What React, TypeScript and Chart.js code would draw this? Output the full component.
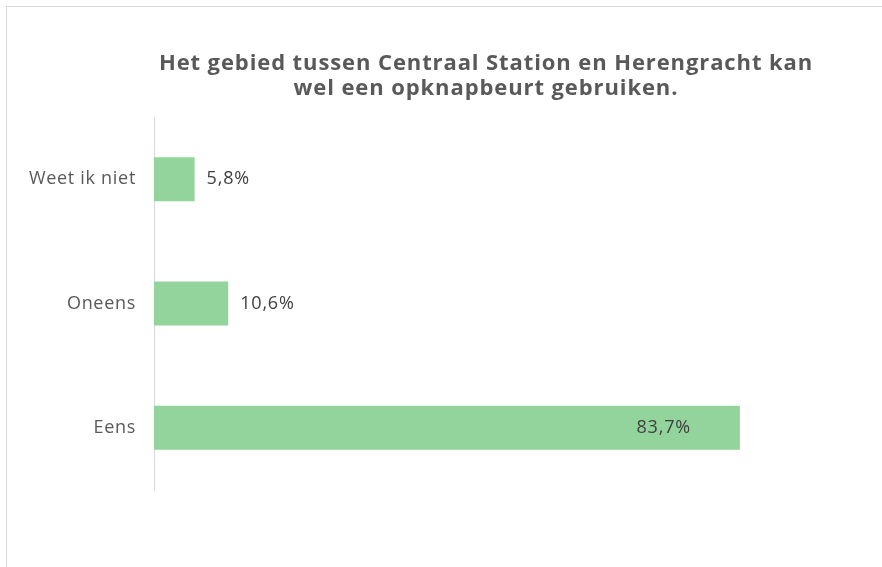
import React, { useEffect, useRef } from "react";
import { Chart, registerables } from "chart.js";

Chart.register(...registerables);

const titleLines = [
  "Het gebied tussen Centraal Station en Herengracht kan",
  "wel een opknapbeurt gebruiken.",
];
const categories = ["Weet ik niet", "Oneens", "Eens"];
const values = [5.8, 10.6, 83.7];

const fmt = (v: number) => v.toFixed(1).replace(".", ",") + "%";

export default function App() {
  const ref = useRef<HTMLCanvasElement | null>(null);

  useEffect(() => {
    if (!ref.current) return;
    const spacingPlugin = {
      id: "spacing",
      beforeDraw(chart: any) {
        (chart.ctx as any).letterSpacing = "0.7px";
      },
    };
    const titlePlugin = {
      id: "customTitle",
      afterDraw(chart: any) {
        const ctx = chart.ctx as any;
        ctx.save();
        ctx.letterSpacing = "0.9px";
        ctx.fillStyle = "#595959";
        ctx.font = "bold 22px 'Open Sans'";
        ctx.textAlign = "center";
        ctx.textBaseline = "alphabetic";
        titleLines.forEach((t, i) => ctx.fillText(t, 486, 70 + i * 25));
        ctx.restore();
      },
    };
    const labelPlugin = {
      id: "barLabels",
      afterDatasetsDraw(chart: any) {
        const ctx = chart.ctx as any;
        const meta = chart.getDatasetMeta(0);
        ctx.save();
        ctx.letterSpacing = "0.8px";
        ctx.font = "18px 'Open Sans'";
        ctx.fillStyle = "#404040";
        ctx.textBaseline = "middle";
        meta.data.forEach((bar: any, i: number) => {
          const v = values[i];
          const txt = fmt(v);
          if (v > 50) {
            ctx.textAlign = "right";
            ctx.fillText(txt, bar.x - 49, bar.y);
          } else {
            ctx.textAlign = "left";
            ctx.fillText(txt, bar.x + 12, bar.y);
          }
        });
        ctx.restore();
      },
    };
    const chart = new Chart(ref.current, {
      type: "bar",
      data: {
        labels: categories,
        datasets: [
          {
            data: values,
            backgroundColor: "#93D49D",
            borderWidth: 0,
            barPercentage: 0.354,
            categoryPercentage: 1,
          },
        ],
      },
      options: {
        indexAxis: "y",
        animation: false,
        responsive: false,
        devicePixelRatio: 1,
        layout: { padding: { left: 8, right: 28, top: 117, bottom: 77 } },
        plugins: {
          legend: { display: false },
          title: { display: false },
          tooltip: { enabled: false },
        },
        scales: {
          x: { display: false, min: 0, max: 100 },
          y: {
            grid: { display: false, drawTicks: false },
            border: { display: true, color: "#d9d9d9", width: 1 },
            ticks: {
              padding: 18,
              color: "#595959",
              font: { family: "'Open Sans'", size: 18 },
            },
            afterFit: (s: any) => {
              s.width = 146;
            },
          },
        },
      },
      plugins: [spacingPlugin, titlePlugin, labelPlugin],
    });
    return () => chart.destroy();
  }, []);

  return (
    <div
      style={{
        position: "absolute",
        left: 0,
        top: 0,
        width: 882,
        height: 567,
        overflow: "hidden",
        background: "#fff",
      }}
    >
      <div
        style={{
          position: "absolute",
          left: 6,
          top: 6,
          width: 1000,
          height: 1000,
          border: "1px solid #d9d9d9",
        }}
      />
      <canvas
        ref={ref}
        width={882}
        height={567}
        style={{ position: "absolute", left: 0, top: 0, width: 882, height: 567 }}
      />
    </div>
  );
}
